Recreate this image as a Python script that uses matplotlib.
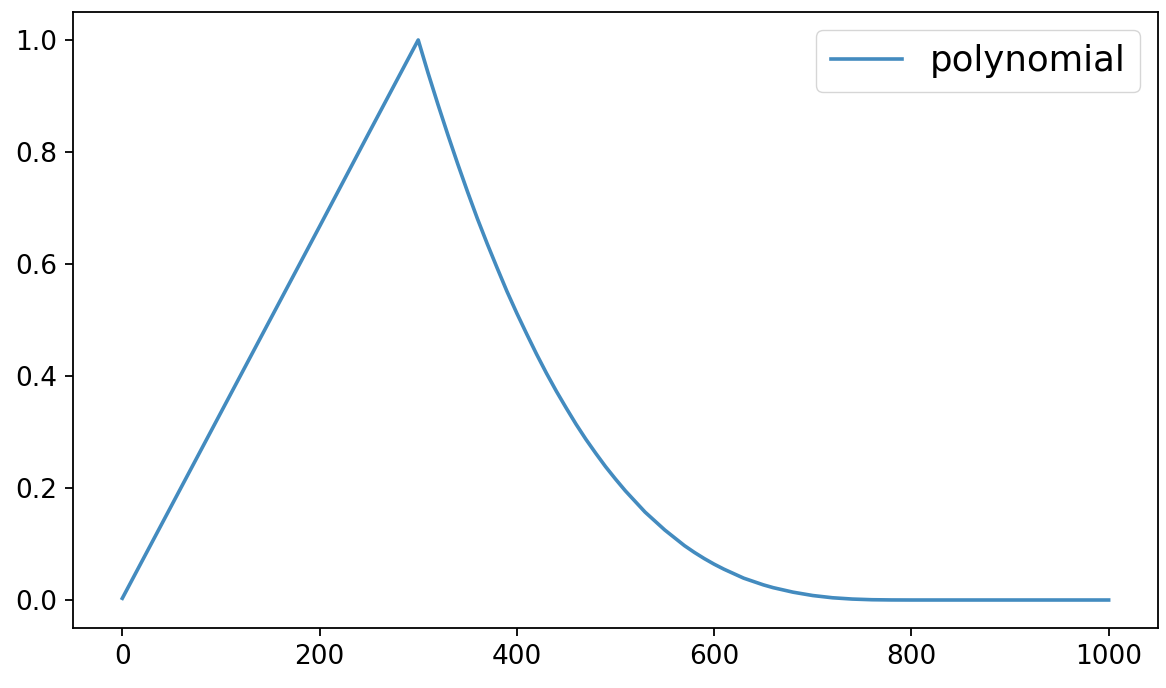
import matplotlib
matplotlib.use('Agg')
import matplotlib.pyplot as plt

# learning rate schedule
# warmup part (straight line up to step 300)
warm_steps = [0, 50, 100, 150, 200, 250]
warm_lr = [0.003, 0.169, 0.335, 0.501, 0.667, 0.834]

# decay part, read every 10 steps where it bends
decay_steps = [300, 310, 320, 330, 340, 350, 360, 370, 380, 390,
               400, 410, 420, 430, 440, 450, 460, 470, 480, 490,
               500, 510, 520, 530, 540, 550, 560, 570, 580, 590,
               600, 610, 620, 630, 640, 650, 660, 670, 680, 690,
               700, 720, 740, 760, 780, 800, 900, 1000]
decay_lr = [1.0, 0.941, 0.885, 0.831, 0.779, 0.729, 0.681, 0.636, 0.593, 0.551,
            0.512, 0.475, 0.439, 0.405, 0.373, 0.343, 0.314, 0.287, 0.262, 0.238,
            0.216, 0.195, 0.176, 0.157, 0.141, 0.125, 0.111, 0.097, 0.085, 0.074,
            0.064, 0.055, 0.047, 0.039, 0.033, 0.027, 0.022, 0.018, 0.014, 0.011,
            0.008, 0.004, 0.0017, 0.0005, 0.0001, 0.0, 0.0, 0.0]

steps = warm_steps + decay_steps
lr = warm_lr + decay_lr

fig = plt.figure(figsize=(11.66, 6.88), dpi=100)
ax = fig.add_axes([0.0626, 0.0872, 0.9305, 0.8954])

ax.plot(steps, lr, color='#438bbf', linewidth=2.6, label='polynomial')

ax.tick_params(axis='both', labelsize=19, length=5.6, width=1.3, pad=5.6)
for s in ax.spines.values():
    s.set_linewidth(1.3)

ax.legend(loc='upper right', fontsize=25.6, borderaxespad=0.5)

plt.savefig('out.png', dpi=100)
